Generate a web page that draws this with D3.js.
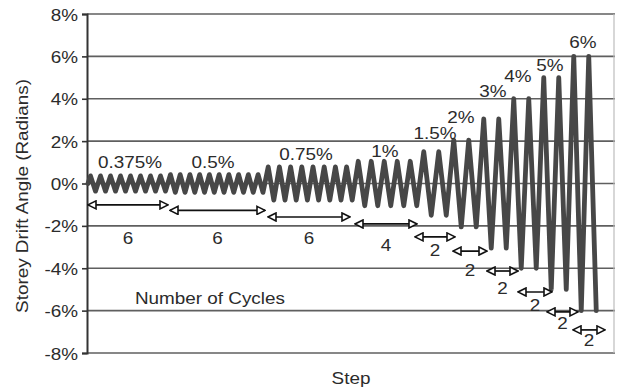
<!DOCTYPE html>
<html>
<head>
<meta charset="utf-8">
<script src="https://cdn.jsdelivr.net/npm/d3@7"></script>
<style>
  body { margin: 0; background: #fff; }
  svg text { font-family: Arial, "Liberation Sans", sans-serif; font-size: 16px; fill: #2b2b2b; }
</style>
</head>
<body>
<div id="chart"></div>
<script>
// drift levels of the loading protocol
const levels = ['0.375%', '0.5%', '0.75%', '1%', '1.5%', '2%', '3%', '4%', '5%', '6%'];
const amplitudes = [0.36, 0.42, 0.78, 1.05, 1.5, 2.05, 3.05, 4.0, 5.0, 6.0];
const drawnCycles = [8, 10, 8, 5, 2, 2, 2, 2, 2, 2];
const cycleLength = [10, 9.74, 11.2, 13, 15, 15, 15, 15, 15, 15];
const cycleLabels = ['6', '6', '6', '4', '2', '2', '2', '2', '2', '2'];

const yTicks = [-8, -6, -4, -2, 0, 2, 4, 6, 8];

// annotation anchors, in (step, %) units
const levelLabelX = [43, 126, 219, 298, 348, 374, 406, 431, 463, 496];
const levelLabelY = [1.01, 1.01, 1.35, 1.53, 2.38, 3.14, 4.34, 5.05, 5.59, 6.65];
const arrowFrom = [1, 83, 181, 268, 328, 366, 400, 431, 460, 486];
const arrowTo = [81, 178, 263, 330, 368, 400, 431, 465, 491, 518];
const arrowY = [-1.01, -1.27, -1.58, -1.91, -2.52, -3.19, -4.13, -5.12, -6.06, -6.91];
const cycleLabelY = [-2.57, -2.57, -2.57, -2.9, -3.14, -4.08, -4.93, -5.73, -6.58, -7.39];

const width = 617, height = 391;
const margin = { top: 14, right: 2, bottom: 38, left: 87 };

const svg = d3.select('#chart')
  .append('svg')
  .attr('width', width)
  .attr('height', height);

const x = d3.scaleLinear()
  .domain([0, 528])
  .range([margin.left, width - margin.right]);

const y = d3.scaleLinear()
  .domain([-8, 8])
  .range([height - margin.bottom, margin.top]);

// text is a bit wider than plain Arial in the original
function label(text, px, py, anchor, rot) {
  return svg.append('text')
    .attr('transform', `translate(${px},${py}) rotate(${rot || 0}) scale(1.18,1)`)
    .attr('text-anchor', anchor)
    .attr('dy', '0.35em')
    .text(text);
}

// gridlines
svg.append('g')
  .selectAll('line')
  .data(yTicks)
  .join('line')
  .attr('x1', x(0))
  .attr('x2', x(528))
  .attr('y1', d => y(d))
  .attr('y2', d => y(d))
  .attr('stroke', '#5f5f5f')
  .attr('stroke-width', 1.7);

// right frame
svg.append('line')
  .attr('x1', x(528) - 1).attr('x2', x(528) - 1)
  .attr('y1', y(8)).attr('y2', y(-8))
  .attr('stroke', '#bdbdbd')
  .attr('stroke-width', 1.2);

// y axis
const yAxis = d3.axisLeft(y)
  .tickValues(yTicks)
  .tickSize(5)
  .tickFormat('');

svg.append('g')
  .attr('transform', `translate(${margin.left},0)`)
  .call(yAxis)
  .call(g => g.select('.domain').attr('stroke', '#333').attr('stroke-width', 2))
  .call(g => g.selectAll('.tick line').attr('stroke', '#333').attr('stroke-width', 1.6));

// plain hyphen for negatives, as in the original
yTicks.forEach(t => label(String(t) + '%', 78, y(t) + 1, 'end'));

// build the reversal points of the wave from the levels
const wave = [[1, 0]];
let s = 1;
amplitudes.forEach((a, i) => {
  const T = cycleLength[i];
  for (let c = 0; c < drawnCycles[i]; c++) {
    wave.push([s + T / 4, a]);
    wave.push([s + 3 * T / 4, -a]);
    s += T;
  }
});

svg.append('path')
  .datum(wave)
  .attr('fill', 'none')
  .attr('stroke', '#474747')
  .attr('stroke-width', 4.8)
  .attr('stroke-linejoin', 'round')
  .attr('stroke-linecap', 'round')
  .attr('d', d3.line().x(d => x(d[0])).y(d => y(d[1])));

// level labels
levels.forEach((t, i) => label(t, x(levelLabelX[i]), y(levelLabelY[i]), 'middle'));

// double arrows with open heads
svg.append('defs')
  .append('marker')
  .attr('id', 'head')
  .attr('viewBox', '-1 -5 10 10')
  .attr('refX', 8)
  .attr('refY', 0)
  .attr('markerUnits', 'userSpaceOnUse')
  .attr('markerWidth', 10)
  .attr('markerHeight', 10)
  .attr('orient', 'auto-start-reverse')
  .append('path')
  .attr('d', 'M0,-4L8,0L0,4Z')
  .attr('fill', '#fff')
  .attr('stroke', '#111')
  .attr('stroke-width', 1.6);

svg.append('g')
  .selectAll('line')
  .data(arrowFrom)
  .join('line')
  .attr('x1', (d, i) => x(arrowFrom[i]))
  .attr('x2', (d, i) => x(arrowTo[i]))
  .attr('y1', (d, i) => y(arrowY[i]))
  .attr('y2', (d, i) => y(arrowY[i]))
  .attr('stroke', '#111')
  .attr('stroke-width', 1.7)
  .attr('marker-start', 'url(#head)')
  .attr('marker-end', 'url(#head)');

cycleLabels.forEach((t, i) =>
  label(t, x((arrowFrom[i] + arrowTo[i]) / 2), y(cycleLabelY[i]), 'middle'));

label('Number of Cycles', 135, 298, 'start');

// axis titles
label('Step', x(264), 378, 'middle');
label('Storey Drift Angle (Radians)', 22, 196, 'middle', -90);
</script>
</body>
</html>
